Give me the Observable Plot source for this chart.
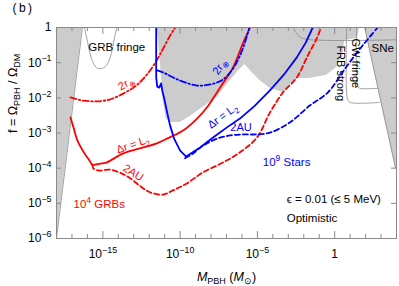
<!DOCTYPE html>
<html>
<head>
<meta charset="utf-8">
<script src="https://cdn.jsdelivr.net/npm/d3@7"></script>
<script src="https://cdn.jsdelivr.net/npm/@observablehq/plot@0.6"></script>
<style>
  html, body { margin: 0; padding: 0; background: #fff; }
  #chart svg { display: block; }
</style>
</head>
<body>
<div id="chart"></div>
<script>
// ---- Data: pairs of [log10 M_PBH (M_sun), log10 f] ----
const xMajorTicks = [-15, -10, -5, 0];
const xMinorTicks = [-17, -16, -14, -13, -12, -11, -9, -8, -7, -6, -4, -3, -2, -1, 1, 2, 3];
const yTicks = [-6, -5, -4, -3, -2, -1, 0];

// excluded (gray) regions: lower boundary, region extends to the top
const leftExcluded = [[-18, -6], [-16.32, 0], [-16.2, 0.3]];
const centralExcluded = [
  [-11.48, 0.3], [-11.48, 0], [-11.29, -0.94], [-11.10, -2.08], [-10.90, -2.59], [-10.65, -2.70],
  [-10.00, -2.70], [-9.35, -2.53], [-8.52, -2.27], [-7.61, -1.99], [-6.97, -1.62], [-6.32, -1.28],
  [-5.81, -1.05], [-5.35, -1.28], [-4.84, -1.51], [-4.19, -1.73], [-3.35, -1.85], [-2.71, -1.56],
  [-2.45, -1.45], [-1.61, -1.45], [-0.52, -1.36], [0.13, -1.14], [0.52, -0.80], [0.65, -0.37],
  [1.48, -0.31], [1.61, 0], [1.61, 0.3]
];
const sneExcluded = [[1.94, 0], [3.94, -4.0], [4.0, -4.05]];

// thin constraint contours
const grbFringe = [[-16.19, 0], [-15.94, -0.51], [-15.74, -0.88], [-15.42, -1.14], [-15.10, -1.17],
  [-14.77, -1.08], [-14.45, -0.74], [-14.26, -0.31], [-14.06, 0.06]];
const frbStrong = [[0.77, 0], [0.77, -1.85], [0.85, -2.05], [1.0, -2.13], [2.9, -2.13]];
const gwFringe = [[1.42, 0], [1.42, -1.50], [1.50, -1.68], [1.65, -1.73], [2.77, -1.73]];
const topContour = [[-2.71, 0], [-2.3, -0.25], [-1.9, -0.33], [3.94, -0.35]];
const sneEdge = [[1.94, 0], [3.94, -4.0]];

// 10^4 GRBs (red)
const redDeltaL2 = [[-17.10, -2.56], [-16.90, -2.84], [-16.65, -3.21], [-16.19, -3.58], [-15.87, -3.78],
  [-15.68, -3.90], [-15.16, -3.87], [-14.77, -3.84], [-13.68, -3.58], [-12.39, -3.41], [-11.55, -3.30],
  [-10.84, -3.16], [-9.81, -2.93], [-8.90, -2.59], [-8.26, -2.27], [-7.42, -1.71], [-6.58, -1.14],
  [-5.94, -0.45], [-5.48, 0], [-5.35, 0.2]];
const red2AU = [[-15.68, -3.90], [-15.61, -4.01], [-15.23, -4.07], [-14.58, -4.04], [-13.94, -4.12],
  [-13.29, -4.27], [-12.65, -4.49], [-12.19, -4.63], [-11.74, -4.72], [-11.10, -4.75], [-10.45, -4.63],
  [-9.55, -4.43], [-8.52, -4.12], [-7.23, -3.84], [-6.13, -3.55], [-5.03, -3.13], [-4.19, -2.42],
  [-3.35, -1.85], [-2.45, -1.42], [-1.74, -0.80], [-1.16, -0.31], [-0.84, 0.06]];
const red2rEarth = [[-17.10, -1.99], [-16.26, -2.08], [-15.42, -2.10], [-14.58, -2.05], [-13.68, -1.88],
  [-12.84, -1.65], [-12.19, -1.36], [-11.61, -1.00], [-11.10, -0.60], [-10.65, -0.23], [-10.32, 0], [-10.19, 0.14]];

// 10^9 Stars (blue)
const blueDeltaL2 = [[-11.55, 0.2], [-11.55, -1.42], [-11.48, -1.68], [-11.35, -1.71], [-11.23, -1.59],
  [-11.16, -1.79], [-11.03, -2.02], [-10.84, -2.42], [-10.65, -2.79], [-10.39, -3.16], [-10.00, -3.50],
  [-9.61, -3.67], [-8.71, -3.41], [-7.87, -3.13], [-6.97, -2.84], [-6.13, -2.59], [-5.16, -2.22],
  [-4.19, -1.79], [-3.23, -1.31], [-2.45, -0.85], [-1.87, -0.43], [-1.42, 0], [-1.29, 0.14]];
const blue2AU = [[-9.68, -3.72], [-9.16, -3.58], [-8.52, -3.36], [-7.61, -3.16], [-6.77, -3.07],
  [-5.94, -3.04], [-5.03, -3.04], [-4.19, -2.99], [-2.90, -2.70], [-1.61, -2.22], [-0.45, -1.85],
  [0.77, -1.11], [1.81, -0.51], [2.90, 0.06]];
const blue2rEarth = [[-11.48, -1.22], [-11.10, -1.28], [-10.00, -1.51], [-8.90, -1.65], [-8.06, -1.62],
  [-7.23, -1.48], [-6.58, -1.17], [-6.13, -0.80], [-5.81, -0.43], [-5.48, 0.06]];

// ---- Styling / layout ----
const W = 399, H = 286, ML = 56, MR = 3, MT = 27, MB = 48;
const PW = W - ML - MR, PH = H - MT - MB;
const RED = "#ff0000", BLUE = "#0000ff", GRAY = "#cccccc", EDGE = "#8a8a8a";
const DASH = "5,3", DASHDOT = "6,2.5,1.6,2.5";
const pts = a => a.map(([lm, lf]) => ({m: 10 ** lm, f: 10 ** lf}));
const region = a => Plot.area(pts(a), {x1: "m", y1: "f", y2: () => 10, fill: GRAY, clip: true});
const thin = a => Plot.line(pts(a), {x: "m", y: "f", stroke: EDGE, strokeWidth: 0.8, curve: "catmull-rom", clip: true});
const curve = (a, stroke, dash, c = "catmull-rom") =>
  Plot.line(pts(a), {x: "m", y: "f", stroke, strokeWidth: 1.8, strokeDasharray: dash, curve: c, clip: true});
const label = (txt, lm, lf, opts = {}) =>
  Plot.text([txt], {x: () => 10 ** lm, y: () => 10 ** lf, text: d => d, fontSize: 11, lineAnchor: "middle", ...opts});
const powFmt = d => d === 0 ? "1" : `10^{\u2212${-d}}`;

const chart = Plot.plot({
  width: W, height: H,
  marginLeft: ML, marginRight: MR, marginTop: MT, marginBottom: MB,
  style: {fontFamily: "'Liberation Sans', Arial, sans-serif", background: "#fff", color: "#000"},
  x: {type: "log", domain: [1e-18, 1e4], axis: null},
  y: {type: "log", domain: [1e-6, 1], axis: null},
  marks: [
    region(leftExcluded),
    region(centralExcluded),
    region(sneExcluded),
    thin(grbFringe),
    thin(frbStrong),
    thin(gwFringe),
    thin(topContour),
    Plot.line(pts(sneEdge), {x: "m", y: "f", stroke: EDGE, strokeWidth: 0.8, clip: true}),
    Plot.line(pts(leftExcluded), {x: "m", y: "f", stroke: EDGE, strokeWidth: 0.8, clip: true}),

    curve(red2rEarth, RED, DASHDOT),
    curve(red2AU, RED, DASH),
    curve(redDeltaL2, RED, null),
    curve(blue2rEarth, BLUE, DASHDOT),
    curve(blue2AU, BLUE, DASH),
    curve(blueDeltaL2, BLUE, null, "linear"),

    // annotations
    label("GRB fringe", -15.94, -0.57, {textAnchor: "start", fontSize: 11.5}),
    label("SNe", 2.39, -0.60, {textAnchor: "start", fontSize: 11.5}),
    label("GW fringe", 1.38, -1.02, {rotate: 90, fontSize: 11}),
    label("FRB strong", 0.40, -1.30, {rotate: 90, fontSize: 11}),
    label("2r_{⊕}", -13.48, -1.59, {rotate: -30, fill: RED}),
    label("Δr = L_{2}", -13.05, -3.33, {rotate: -19, fill: RED}),
    label("2AU", -13.03, -4.13, {rotate: 32, fill: RED}),
    label("10^{4} GRBs", -16.90, -5.03, {textAnchor: "start", fill: RED, fontSize: 11.5}),
    label("2r_{⊕}", -7.42, -1.11, {rotate: -55, fill: BLUE}),
    label("Δr = L_{2}", -7.25, -2.52, {rotate: -36, fill: BLUE}),
    label("2AU", -6.06, -2.84, {fill: BLUE}),
    label("10^{9} Stars", -4.65, -3.84, {textAnchor: "start", fill: BLUE, fontSize: 11.5}),
    label("ϵ = 0.01 (≤ 5 MeV)", -3.10, -4.89, {textAnchor: "start", fontSize: 11.5}),
    label("Optimistic", -3.10, -5.43, {textAnchor: "start", fontSize: 11.5}),

    // frame & inward ticks on all sides
    Plot.ruleX(xMajorTicks, {x: d => 10 ** d, insetTop: PH - 7, stroke: EDGE}),
    Plot.ruleX(xMinorTicks, {x: d => 10 ** d, insetTop: PH - 4, stroke: EDGE}),
    Plot.ruleX(xMajorTicks, {x: d => 10 ** d, insetBottom: PH - 7, stroke: EDGE}),
    Plot.ruleX(xMinorTicks, {x: d => 10 ** d, insetBottom: PH - 4, stroke: EDGE}),
    Plot.ruleY(yTicks, {y: d => 10 ** d, insetRight: PW - 5, stroke: EDGE}),
    Plot.ruleY(yTicks, {y: d => 10 ** d, insetLeft: PW - 5, stroke: EDGE}),
    Plot.frame({stroke: EDGE}),

    // tick labels
    Plot.text(xMajorTicks, {x: d => 10 ** d, frameAnchor: "bottom", lineAnchor: "middle", dy: 16, text: powFmt, fontSize: 12}),
    Plot.text(yTicks, {y: d => 10 ** d, frameAnchor: "left", lineAnchor: "middle", dx: -5, textAnchor: "end", text: powFmt, fontSize: 12}),

    // axis titles and panel tag
    Plot.text(["*M*_{PBH} (*M*_{⊙})"], {frameAnchor: "bottom", lineAnchor: "middle", dy: 38, text: d => d, fontSize: 12.5}),
    Plot.text(["f = Ω_{PBH} / Ω_{DM}"], {frameAnchor: "left", lineAnchor: "middle", dx: -44, rotate: -90, text: d => d, fontSize: 12.5}),
    Plot.text(["(\u2009b\u2009)"], {frameAnchor: "top-left", lineAnchor: "middle", dx: -44, dy: -19, text: d => d, fontSize: 12})
  ]
});

document.getElementById("chart").appendChild(chart);

// rich text: _{sub}, ^{sup}, *italic*
const NS = "http://www.w3.org/2000/svg";
chart.querySelectorAll("text").forEach(el => {
  const s = el.textContent;
  if (!/(_\{|\^\{|\*)/.test(s)) return;
  const fs = parseFloat(getComputedStyle(el).fontSize) || 11;
  const parts = s.split(/(_\{[^}]*\}|\^\{[^}]*\}|\*[^*]+\*)/g).filter(p => p !== "");
  el.textContent = "";
  let shift = 0;
  for (const p of parts) {
    const t = document.createElementNS(NS, "tspan");
    let target = 0, size = null, txt = p;
    if (p.startsWith("_{")) { target = 0.28 * fs; size = 0.72 * fs; txt = p.slice(2, -1); }
    else if (p.startsWith("^{")) { target = -0.42 * fs; size = 0.74 * fs; txt = p.slice(2, -1); }
    else if (p.length > 1 && p.startsWith("*") && p.endsWith("*")) { t.setAttribute("font-style", "italic"); txt = p.slice(1, -1); }
    const dy = target - shift;
    if (dy) t.setAttribute("dy", dy.toFixed(2));
    shift = target;
    if (size) t.setAttribute("font-size", size.toFixed(2));
    t.textContent = txt;
    el.appendChild(t);
  }
});
</script>
</body>
</html>
